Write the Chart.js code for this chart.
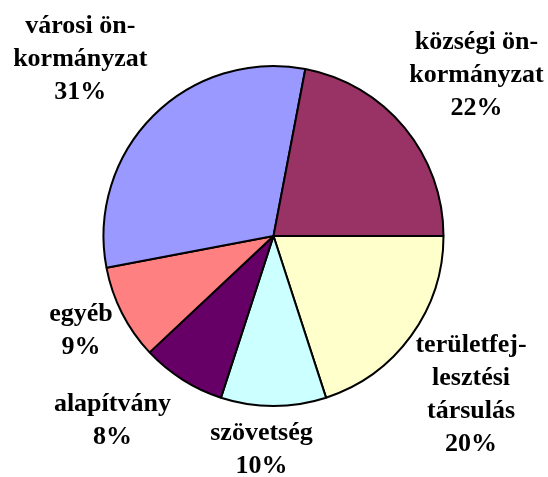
<!DOCTYPE html>
<html>
<head>
<meta charset="utf-8">
<script src="https://cdn.jsdelivr.net/npm/chart.js@4/dist/chart.umd.min.js"></script>
<style>
html,body{margin:0;padding:0;background:#fff;}
#wrap{width:548px;height:477px;position:relative;}
</style>
</head>
<body>
<div id="wrap"><canvas id="c" width="548" height="477"></canvas></div>
<script>
// Data (clockwise from 3 o'clock)
const categories = [
  ["területfej-", "lesztési", "társulás"],
  ["szövetség"],
  ["alapítvány"],
  ["egyéb"],
  ["városi ön-", "kormányzat"],
  ["községi ön-", "kormányzat"]
];
const values = [20, 10, 8, 9, 31, 22];
const colors = ["#FFFFCC", "#CCFFFF", "#660066", "#FF8080", "#9999FF", "#993366"];

// label offset from the outer mid-point of each slice (px)
const labelOffsets = [[60, 59], [-12, 44], [-70, 41], [-41, 18], [-73, -57], [72, -52]];

const labelPlugin = {
  id: 'sliceLabels',
  afterDatasetsDraw(chart) {
    const ctx = chart.ctx;
    const meta = chart.getDatasetMeta(0);
    const total = values.reduce((a, b) => a + b, 0);
    ctx.save();
    ctx.font = 'bold 26px "Liberation Serif", "Times New Roman", serif';
    ctx.fillStyle = '#000';
    ctx.textAlign = 'center';
    ctx.textBaseline = 'middle';
    const lh = 33;
    meta.data.forEach((arc, i) => {
      const p = arc.getProps(['x', 'y', 'startAngle', 'endAngle', 'outerRadius'], true);
      const mid = (p.startAngle + p.endAngle) / 2;
      const ox = p.x + Math.cos(mid) * p.outerRadius + labelOffsets[i][0];
      const oy = p.y + Math.sin(mid) * p.outerRadius + labelOffsets[i][1];
      const lines = categories[i].concat([Math.round(values[i] / total * 100) + '%']);
      const y0 = oy - (lines.length - 1) * lh / 2;
      lines.forEach((t, j) => ctx.fillText(t, ox, y0 + j * lh));
    });
    ctx.restore();
  }
};

new Chart(document.getElementById('c'), {
  type: 'pie',
  data: {
    labels: categories.map(c => c.join(' ')),
    datasets: [{
      data: values,
      backgroundColor: colors,
      borderColor: '#000',
      borderWidth: 2
    }]
  },
  options: {
    responsive: false,
    animation: false,
    rotation: 90,
    radius: 170,
    layout: { padding: { left: 0, right: 1, top: 0, bottom: 5 } },
    plugins: { legend: { display: false }, tooltip: { enabled: false } }
  },
  plugins: [labelPlugin]
});
</script>
</body>
</html>
